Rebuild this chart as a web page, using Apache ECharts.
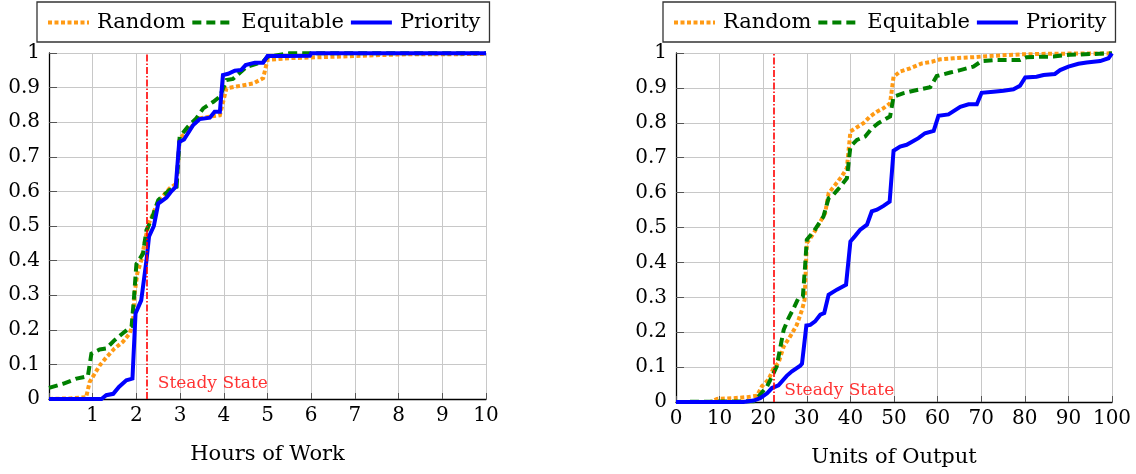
<!DOCTYPE html>
<html>
<head>
<meta charset="utf-8">
<script src="https://cdn.jsdelivr.net/npm/echarts@6.0.0/dist/echarts.min.js"></script>
<style>
body{margin:0;background:#fff;}
#main{width:1136px;height:474px;}
</style>
</head>
<body>
<div id="main"></div>
<script>
//左图：工作小时
var hoursTicks = [0,1,2,3,4,5,6,7,8,9,10];
var hoursRandom = [[0,0],[0.5,0.002],[0.85,0.005],[0.93,0.049],[1.16,0.097],[1.31,0.12],[1.5,0.146],[1.69,0.165],[1.85,0.19],[1.92,0.218],[1.96,0.305],[2.02,0.363],[2.11,0.4],[2.23,0.478],[2.3,0.512],[2.5,0.57],[2.76,0.609],[2.92,0.623],[2.99,0.753],[3.15,0.772],[3.3,0.792],[3.45,0.811],[3.68,0.816],[3.91,0.82],[4.06,0.898],[4.29,0.903],[4.67,0.912],[4.9,0.927],[5.0,0.98],[5.5,0.985],[5.97,0.987],[6.96,0.991],[8.03,0.996],[10,0.997]];
var hoursEquitable = [[0,0.032],[0.32,0.044],[0.63,0.059],[0.89,0.066],[0.97,0.131],[1.16,0.143],[1.31,0.146],[1.5,0.17],[1.69,0.19],[1.89,0.21],[1.94,0.285],[2.0,0.39],[2.15,0.42],[2.23,0.488],[2.34,0.517],[2.5,0.575],[2.76,0.604],[2.92,0.613],[2.99,0.758],[3.18,0.787],[3.37,0.811],[3.53,0.84],[3.76,0.859],[3.91,0.874],[4.06,0.922],[4.21,0.925],[4.52,0.96],[4.9,0.975],[5.0,0.989],[5.5,0.999],[10,0.999]];
var hoursPriority = [[0,0],[1.2,0],[1.31,0.011],[1.47,0.015],[1.6,0.035],[1.77,0.054],[1.91,0.059],[1.98,0.247],[2.11,0.285],[2.23,0.4],[2.29,0.47],[2.4,0.5],[2.5,0.565],[2.69,0.582],[2.8,0.6],[2.9,0.613],[2.98,0.743],[3.09,0.75],[3.3,0.792],[3.45,0.809],[3.68,0.813],[3.79,0.83],[3.91,0.83],[3.98,0.936],[4.1,0.94],[4.25,0.949],[4.4,0.951],[4.5,0.965],[4.71,0.972],[4.9,0.972],[5.0,0.991],[5.43,0.991],[5.97,0.992],[6.0,0.999],[10,0.999]];
var hoursSteady = 2.24;
var hoursSteadyLabel = [2.49,0.045];

//右图：产出单位
var unitsTicks = [0,10,20,30,40,50,60,70,80,90,100];
var unitsRandom = [[0,0],[7.9,0],[9.4,0.009],[13.2,0.011],[16.3,0.014],[18.6,0.018],[19.7,0.045],[21.2,0.064],[22.4,0.097],[23.5,0.112],[24.7,0.159],[26.2,0.188],[27.7,0.221],[28.9,0.264],[29.5,0.293],[30,0.455],[31.6,0.484],[33.1,0.517],[34.2,0.541],[35,0.598],[36.5,0.622],[38,0.646],[39.2,0.67],[40,0.775],[41.1,0.784],[43,0.799],[44.5,0.818],[46.1,0.832],[47.6,0.842],[49.1,0.856],[49.9,0.932],[51.4,0.947],[53.7,0.956],[56.4,0.97],[58.7,0.975],[60.6,0.982],[63.6,0.985],[68.2,0.988],[71.3,0.991],[78.9,0.996],[86.6,0.998],[100,0.999]];
var unitsEquitable = [[0,0],[17.8,0.002],[19.3,0.021],[20.9,0.045],[22,0.073],[23.1,0.102],[24.7,0.207],[25.8,0.24],[27,0.269],[28.1,0.298],[29.1,0.302],[29.6,0.388],[30,0.465],[31.6,0.489],[33.8,0.531],[35,0.584],[36.1,0.594],[37.7,0.617],[39.2,0.641],[40,0.732],[41.5,0.751],[43.4,0.761],[44.9,0.784],[46.4,0.799],[49.1,0.818],[49.9,0.875],[52.2,0.885],[54.5,0.892],[58.3,0.902],[59.8,0.934],[62.9,0.944],[65.2,0.951],[68.2,0.961],[70.1,0.977],[73.6,0.98],[78.9,0.98],[80.4,0.988],[86.6,0.99],[90.4,0.995],[100,0.999]];
var unitsPriority = [[0,0],[15.5,0],[17.8,0.004],[19.3,0.011],[20.9,0.025],[22,0.04],[23.5,0.048],[25.4,0.075],[26.6,0.088],[28.5,0.104],[28.9,0.11],[29.9,0.219],[30.8,0.221],[31.9,0.231],[33.1,0.25],[34,0.255],[35,0.307],[36.9,0.322],[39,0.336],[40,0.46],[41.1,0.476],[42.2,0.493],[43.8,0.508],[44.9,0.546],[46.1,0.551],[47.6,0.562],[49,0.574],[49.9,0.72],[51.4,0.732],[52.9,0.737],[55.6,0.756],[57.1,0.77],[59.1,0.777],[60.2,0.82],[62.5,0.824],[65.2,0.846],[67.1,0.853],[69,0.853],[70.1,0.886],[72.8,0.889],[75.1,0.892],[77.4,0.896],[78.9,0.906],[80.1,0.93],[82.7,0.932],[84.3,0.937],[86.9,0.94],[88.1,0.951],[90,0.961],[92.3,0.969],[94.2,0.973],[97.3,0.977],[99.2,0.985],[100,0.999]];
var unitsSteady = 22.4;
var unitsSteadyLabel = [24.8,0.032];

var seriesNames = ['Random','Equitable','Priority'];
var axisNames = ['Hours of Work','Units of Output'];

var FONT = 'DejaVu Serif';
var colRandom = '#ff9a14';
var colEquitable = '#008000';
var colPriority = '#0000ff';

function makeLegend(left){
	return {
		left:left, top:2,
		data:seriesNames,
		orient:'horizontal',
		padding:[10,9,9,9],
		itemGap:5,
		itemWidth:41,
		itemHeight:14,
		borderColor:'#333',
		borderWidth:1.3,
		borderRadius:0,
		selectedMode:false,
		itemStyle:{opacity:0},
		lineStyle:{width:4},
		textStyle:{fontFamily:FONT,fontSize:21,color:'#000',padding:[0,0,0,3]}
	};
}

function makeX(idx, ticks, hideZero){
	return {
		type:'value', gridIndex:idx,
		min:ticks[0], max:ticks[ticks.length-1], interval:ticks[1]-ticks[0],
		name:axisNames[idx], nameLocation:'middle', nameGap:45,
		nameTextStyle:{fontFamily:FONT,fontSize:21,color:'#000'},
		axisLine:{show:true,onZero:false,lineStyle:{color:'#000',width:1.3}},
		axisTick:{show:true,inside:true,length:6,lineStyle:{color:'#555'}},
		axisLabel:{fontFamily:FONT,fontSize:20,color:'#000',margin:7,
			formatter:function(v){ return (hideZero && v===0) ? '' : String(v); }},
		splitLine:{show:true,lineStyle:{color:'#c8c8c8',width:1}}
	};
}

function makeY(idx){
	return {
		type:'value', gridIndex:idx,
		min:0, max:1, interval:0.1,
		axisLine:{show:true,onZero:false,lineStyle:{color:'#000',width:1.3}},
		axisTick:{show:true,inside:true,length:8,lineStyle:{color:'#555'}},
		axisLabel:{fontFamily:FONT,fontSize:20,color:'#000',margin:9},
		splitLine:{show:true,lineStyle:{color:'#c8c8c8',width:1}}
	};
}

function lineSeries(name, idx, data, color, width, type){
	return {
		name:name, type:'line', xAxisIndex:idx, yAxisIndex:idx,
		data:data, symbol:'none', showSymbol:false, animation:false,
		itemStyle:{color:color},
		lineStyle:{color:color,width:width,type:type,cap:'butt',join:'miter'}
	};
}

//稳定状态竖线 + 标签
function steadySeries(idx, x, labelPos){
	return {
		name:'Steady', type:'scatter', xAxisIndex:idx, yAxisIndex:idx,
		data:[labelPos], symbolSize:0, animation:false, silent:true,
		label:{show:true,position:'right',distance:0,formatter:'Steady State',
			fontFamily:FONT,fontSize:17,color:'#ff0000'},
		markLine:{symbol:'none',silent:true,animation:false,label:{show:false},
			lineStyle:{color:'#ff0000',width:1.6,type:[7,2,1.5,2],opacity:1},
			data:[[{coord:[x,0]},{coord:[x,1]}]]}
	};
}

var myChart = echarts.init(document.getElementById('main'));
var option = {
	backgroundColor:'#fff',
	animation:false,
	legend:[makeLegend(37), makeLegend(663)],
	grid:[
		{left:49, top:53, width:437, height:346},
		{left:676, top:53, width:436, height:349}
	],
	xAxis:[makeX(0, hoursTicks, true), makeX(1, unitsTicks, false)],
	yAxis:[makeY(0), makeY(1)],
	series:[
		steadySeries(0, hoursSteady, hoursSteadyLabel),
		steadySeries(1, unitsSteady, unitsSteadyLabel),
		lineSeries('Random',0,hoursRandom,colRandom,4,[4,2.5]),
		lineSeries('Equitable',0,hoursEquitable,colEquitable,4,[9,5]),
		lineSeries('Priority',0,hoursPriority,colPriority,4,'solid'),
		lineSeries('Random',1,unitsRandom,colRandom,4,[4,2.5]),
		lineSeries('Equitable',1,unitsEquitable,colEquitable,4,[9,5]),
		lineSeries('Priority',1,unitsPriority,colPriority,4,'solid')
	]
};
myChart.setOption(option);
</script>
</body>
</html>
